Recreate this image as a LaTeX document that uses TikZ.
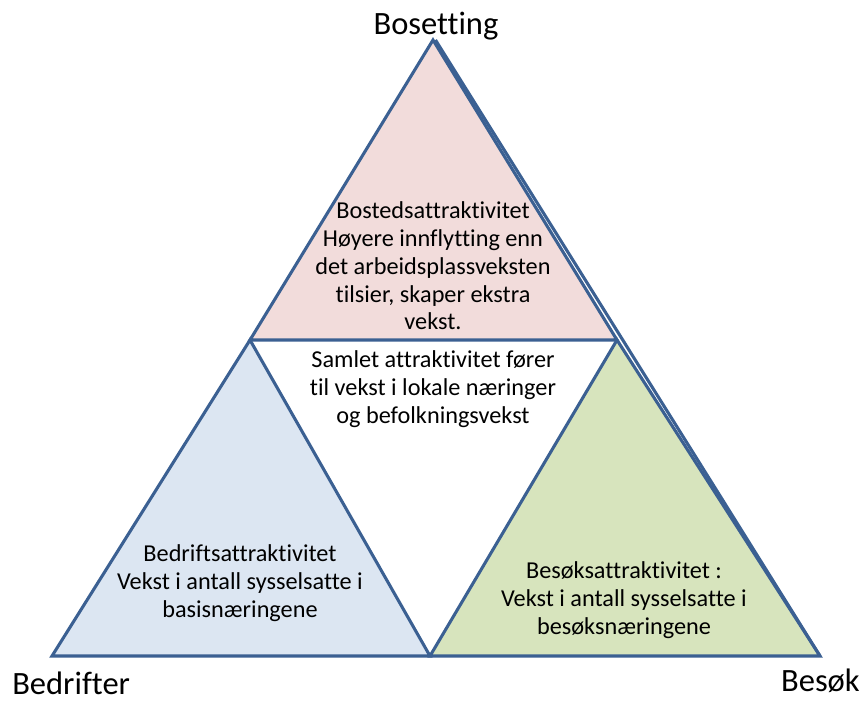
\documentclass[tikz,border=0pt]{standalone}
\usepackage{fontspec}
\setmainfont[Ligatures=NoCommon]{Carlito}
\definecolor{edge}{HTML}{3B6092}
\definecolor{pinkf}{HTML}{F2DCDB}
\definecolor{bluef}{HTML}{DCE6F2}
\definecolor{greenf}{HTML}{D7E4BD}
\begin{document}
\begin{tikzpicture}[x=0.75pt,y=-0.75pt,
  tri/.style={draw=edge,line width=2.3pt,line join=miter},
  body/.style={align=center,font=\fontsize{18.2}{20.8}\selectfont,inner sep=0pt},
  corner/.style={font=\fontsize{24.4}{28}\selectfont,inner sep=0pt}]
\useasboundingbox (0,0) rectangle (861,702);
\coordinate (A) at (433,40);
\coordinate (B) at (52,656);
\coordinate (C) at (820,656);
\coordinate (L) at (250,340);
\coordinate (R) at (617,340);
\coordinate (M) at (430,656);
\coordinate (A2) at (435.5,40);
\filldraw[tri,fill=pinkf] (A) -- (R) -- (L) -- cycle;
\filldraw[tri,fill=bluef] (L) -- (M) -- (B) -- cycle;
\filldraw[tri,fill=greenf] (R) -- (C) -- (M) -- cycle;
\draw[draw=edge,line width=2.3pt] (A2) -- (C);
\node[corner,anchor=base] (top) at (436,35) {Bosetting};
\node[corner,anchor=base west] (bl) at (12,694) {Bedrifter};
\node[corner,anchor=base east] (br) at (860,691) {Besøk};
\node[body] (t1) at (433,266) {Bostedsattraktivitet\\Høyere innflytting enn\\det arbeidsplassveksten\\tilsier, skaper ekstra\\vekst.};
\node[body] (t2) at (433,389) {Samlet attraktivitet fører\\til vekst i lokale næringer\\og befolkningsvekst};
\node[body] (t3) at (240,583) {Bedriftsattraktivitet\\Vekst i antall sysselsatte i\\basisnæringene};
\node[body] (t4) at (624,600) {Besøksattraktivitet :\\Vekst i antall sysselsatte i\\besøksnæringene};
\end{tikzpicture}
\end{document}
